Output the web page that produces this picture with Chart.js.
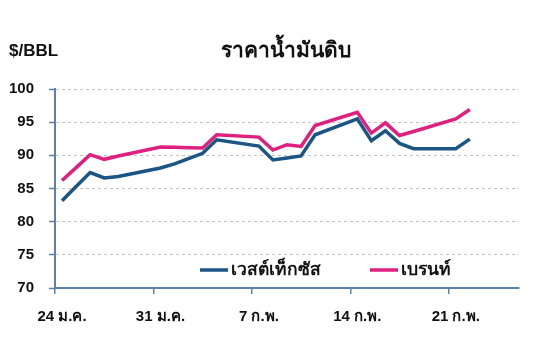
<!DOCTYPE html>
<html>
<head>
<meta charset="utf-8">
<script src="https://cdn.jsdelivr.net/npm/chart.js@4.4.1/dist/chart.umd.min.js"></script>
<style>
  html, body { margin: 0; padding: 0; background: #ffffff; }
  #wrap { width: 535px; height: 359px; position: relative; }
</style>
</head>
<body>
<div id="wrap"><canvas id="c" width="535" height="359"></canvas></div>
<script>
// ---- data ----
const categories = [
  "24 ม.ค.","25 ม.ค.","26 ม.ค.","27 ม.ค.","28 ม.ค.","29 ม.ค.","30 ม.ค.",
  "31 ม.ค.","1 ก.พ.","2 ก.พ.","3 ก.พ.","4 ก.พ.","5 ก.พ.","6 ก.พ.",
  "7 ก.พ.","8 ก.พ.","9 ก.พ.","10 ก.พ.","11 ก.พ.","12 ก.พ.","13 ก.พ.",
  "14 ก.พ.","15 ก.พ.","16 ก.พ.","17 ก.พ.","18 ก.พ.","19 ก.พ.","20 ก.พ.",
  "21 ก.พ.","22 ก.พ.","23 ก.พ.","24 ก.พ.","25 ก.พ."
];
const tickLabels = ["24 ม.ค.","31 ม.ค.","7 ก.พ.","14 ก.พ.","21 ก.พ."];
const wtiValues = [
  83.15, 85.3, 87.4, 86.6, 86.8, null, null,
  88.1, 88.7, 89.5, 90.3, 92.35, null, null,
  91.4, 89.3, 89.6, 89.9, 93.1, null, null,
  95.5, 92.2, 93.7, 91.8, 91.0, null, null,
  91.0, 92.45, null, null, null
];
const brentValues = [
  86.2, 88.15, 90.1, 89.4, 89.9, null, null,
  91.25, 91.2, 91.15, 91.1, 93.1, null, null,
  92.75, 90.8, 91.6, 91.35, 94.5, null, null,
  96.5, 93.35, 94.9, 93.0, 93.6, null, null,
  95.5, 96.9, null, null, null
];
const seriesNames = ["เวสต์เท็กซัส", "เบรนท์"];
const yTicks = [70, 75, 80, 85, 90, 95, 100];
const titleText = "ราคาน้ำมันดิบ";
const unitText = "$/BBL";

// ---- styles ----
const BLUE = "#1b5586";
const PINK = "#e0207f";
const AXIS = "#5a82ad";
const FONT = "'Liberation Sans', Arial, 'Noto Sans', sans-serif";

const textPlugin = {
  id: 'texts',
  afterDraw(chart) {
    const ctx = chart.ctx;
    ctx.save();
    ctx.fillStyle = "#111";
    ctx.textBaseline = "middle";
    ctx.font = "bold 17px " + FONT;
    ctx.textAlign = "left";
    ctx.fillText(unitText, 9, 51);
    ctx.font = "bold 21px " + FONT;
    ctx.textAlign = "center";
    ctx.fillText(titleText, 286, 51);
    // legend
    const items = [
      { x: 200, color: BLUE, text: chart.data.datasets[0].label },
      { x: 370, color: PINK, text: chart.data.datasets[1].label }
    ];
    const ly = 270;
    ctx.font = "bold 17.5px " + FONT;
    ctx.textAlign = "left";
    items.forEach(it => {
      ctx.strokeStyle = it.color;
      ctx.lineWidth = 3.5;
      ctx.beginPath();
      ctx.moveTo(it.x, ly);
      ctx.lineTo(it.x + 28, ly);
      ctx.stroke();
      ctx.fillStyle = "#111";
      ctx.fillText(it.text, it.x + 31, ly);
    });
    ctx.restore();
  }
};

new Chart(document.getElementById('c'), {
  type: 'line',
  data: {
    labels: categories,
    datasets: [
      { label: seriesNames[0], data: wtiValues, borderColor: BLUE, backgroundColor: BLUE,
        borderWidth: 3.5, pointRadius: 0, tension: 0, spanGaps: true },
      { label: seriesNames[1], data: brentValues, borderColor: PINK, backgroundColor: PINK,
        borderWidth: 3.5, pointRadius: 0, tension: 0, spanGaps: true }
    ]
  },
  options: {
    responsive: false,
    animation: false,
    layout: { padding: { top: 89, right: 16, left: 0, bottom: 0 } },
    plugins: { legend: { display: false }, title: { display: false }, tooltip: { enabled: false } },
    scales: {
      x: {
        type: 'category',
        offset: true,
        grid: {
          offset: true,
          drawOnChartArea: false,
          drawTicks: true,
          tickLength: 6,
          color: (c) => (c.index % 7 === 0 ? AXIS : 'rgba(0,0,0,0)'),
          tickColor: (c) => (c.index % 7 === 0 ? AXIS : 'rgba(0,0,0,0)'),
          lineWidth: 1.5,
          tickWidth: 1.5
        },
        border: { display: true, color: AXIS, width: 2 },
        ticks: {
          autoSkip: false,
          maxRotation: 0,
          minRotation: 0,
          padding: 14,
          color: "#111",
          font: { family: FONT, size: 15, weight: 'bold' },
          callback: function(v, i) {
            const l = this.getLabelForValue(v);
            return tickLabels.includes(l) ? l : '';
          }
        },
        afterFit: (s) => { s.height = 71; }
      },
      y: {
        min: 70, max: 100,
        afterBuildTicks: (s) => { s.ticks = yTicks.map(v => ({ value: v })); },
        grid: {
          color: "#c4c4c4",
          lineWidth: 1,
          tickColor: AXIS,
          tickLength: 6,
          tickWidth: 1.5,
          tickBorderDash: []
        },
        border: { display: true, color: AXIS, width: 2, dash: [3, 3] },
        ticks: {
          padding: 15,
          color: "#111",
          font: { family: FONT, size: 15, weight: 'bold' }
        },
        afterFit: (s) => { s.width = 55; }
      }
    }
  },
  plugins: [textPlugin]
});
</script>
</body>
</html>
